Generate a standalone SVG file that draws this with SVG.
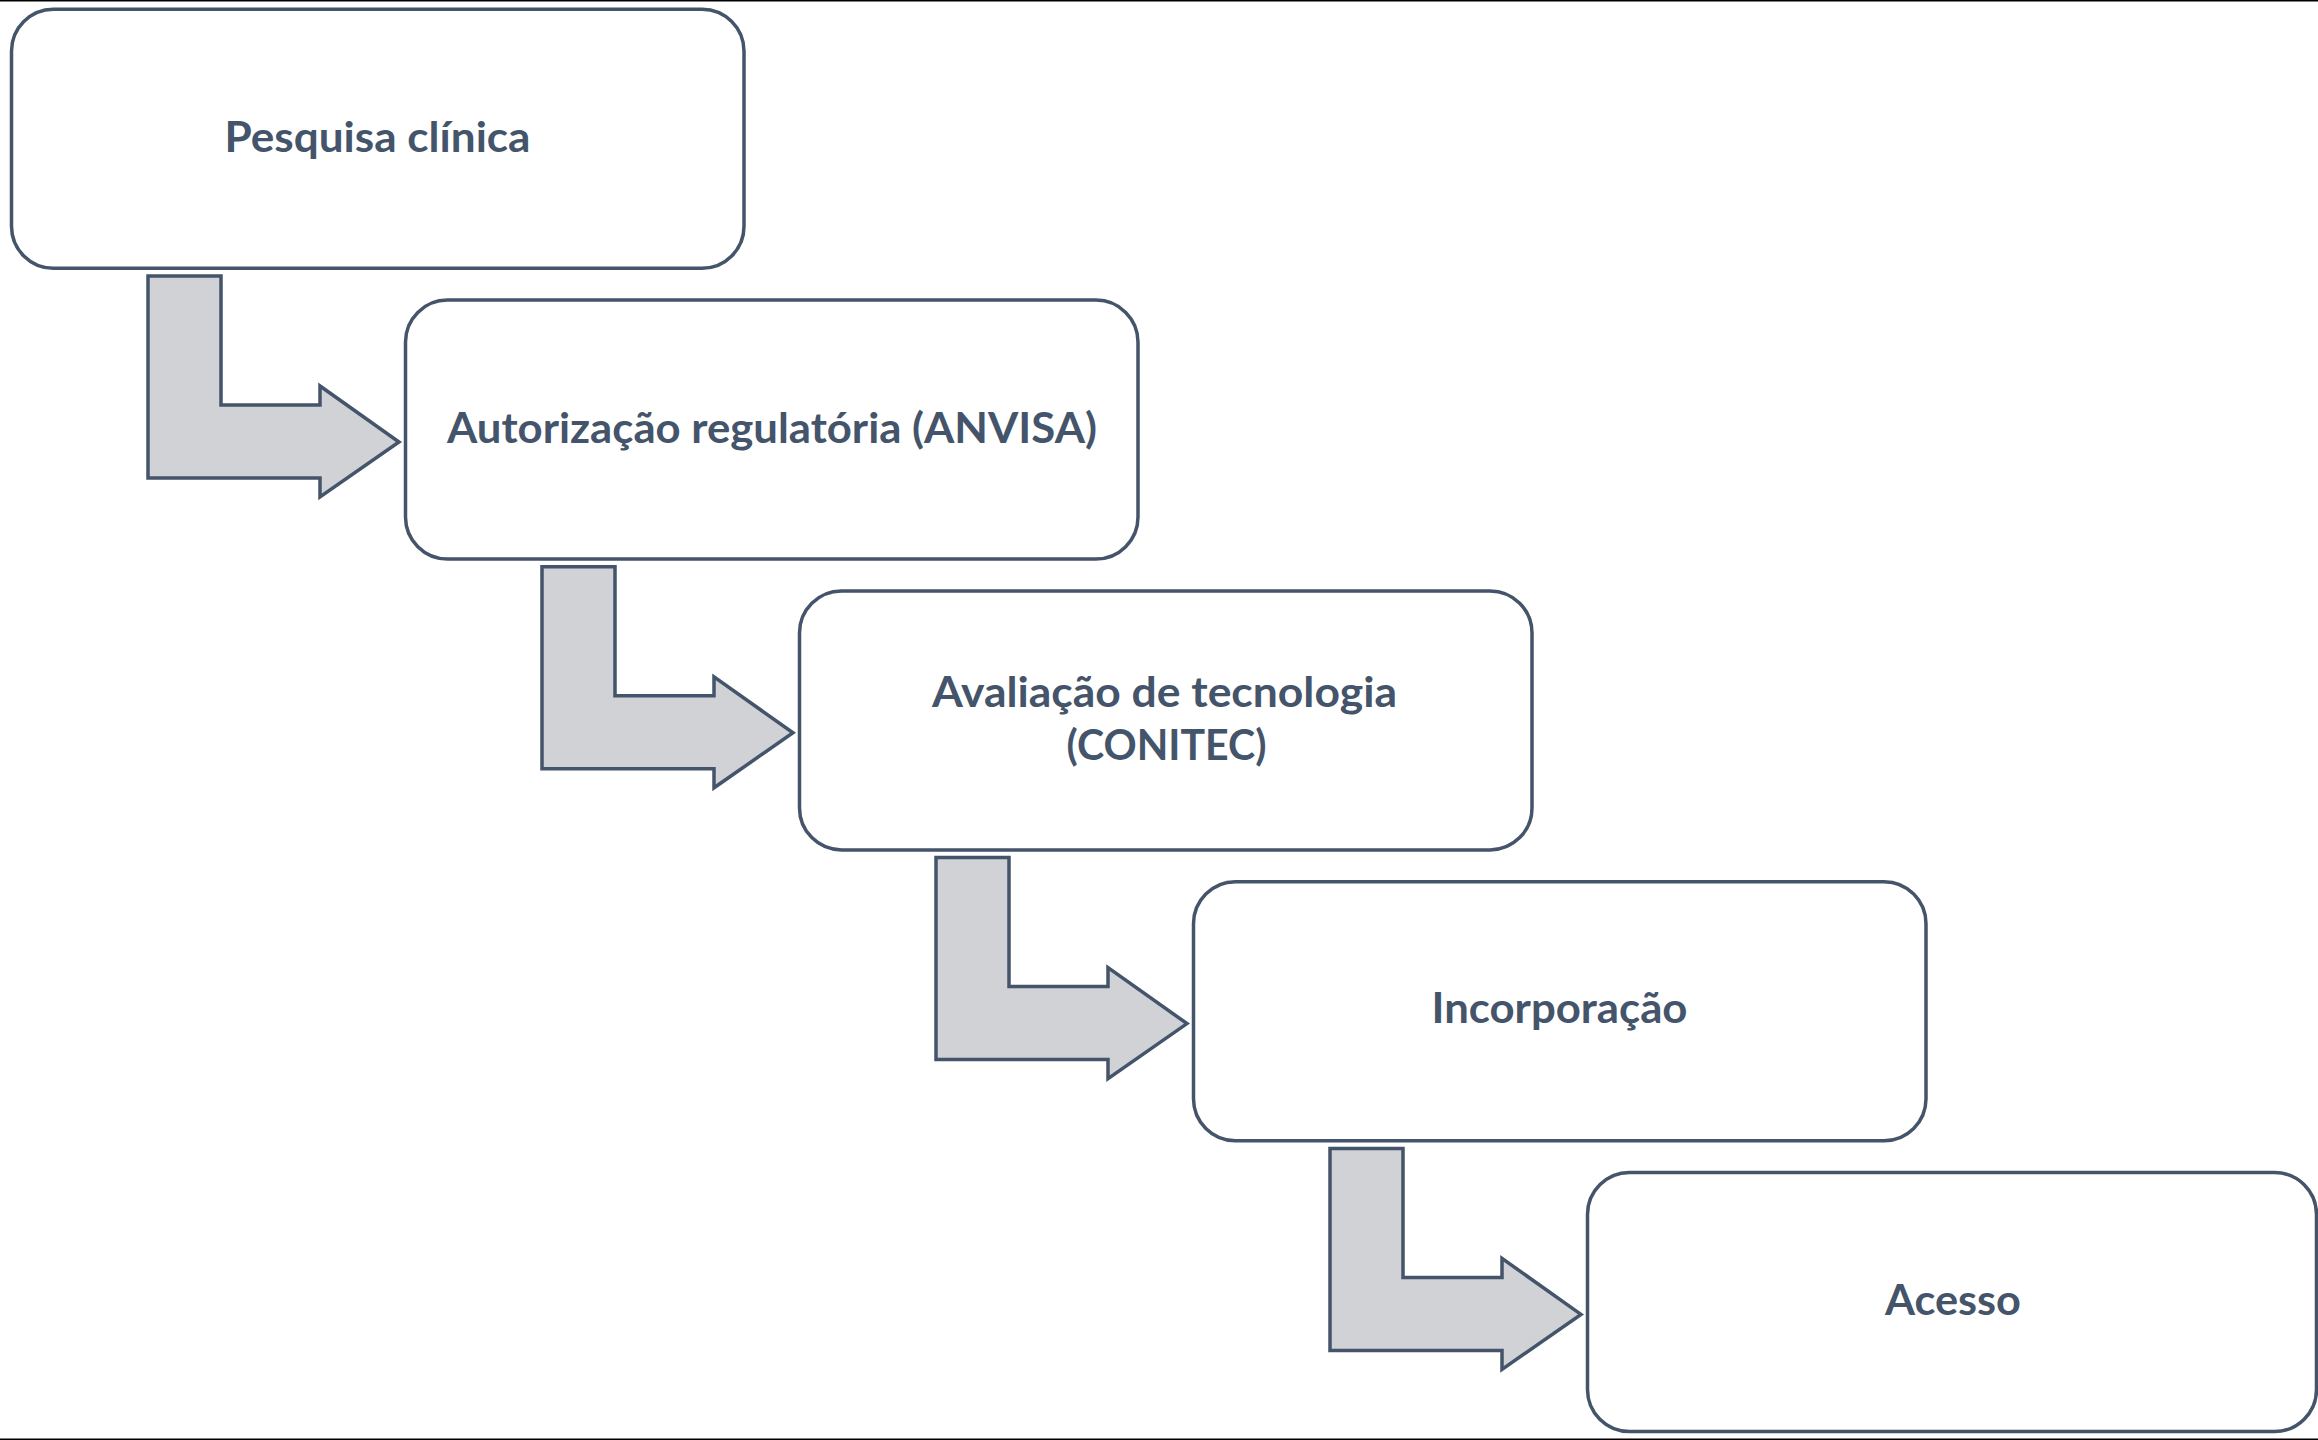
<svg xmlns="http://www.w3.org/2000/svg" xmlns:xlink="http://www.w3.org/1999/xlink" width="2318" height="1440" viewBox="0 0 2318 1440">
<style>
.box{fill:#ffffff;stroke:#44546A;stroke-width:3.5}
.arr{fill:#D0D2D6;stroke:#44546A;stroke-width:3.5;stroke-linejoin:miter}
.lbl{font-family:Lato,"Open Sans","Liberation Sans",sans-serif;font-weight:700;font-size:42px;fill:#44546A;text-anchor:middle}
.frame{stroke:#000000;stroke-width:1.5}
</style>
<defs>
<polygon id="bentArrow" points="148,276 221,276 221,405 320,405 320,386 399,442 320,497 320,478 148,478"/>
</defs>
<rect width="2318" height="1440" fill="#ffffff"/>
<line class="frame" x1="0" y1="0.75" x2="2318" y2="0.75"/>
<line class="frame" x1="0" y1="1439.25" x2="2318" y2="1439.25"/>
<g id="connectors">
<use xlink:href="#bentArrow" class="arr"/>
<use xlink:href="#bentArrow" class="arr" transform="translate(394,290.8)"/>
<use xlink:href="#bentArrow" class="arr" transform="translate(788,581.6)"/>
<use xlink:href="#bentArrow" class="arr" transform="translate(1182,872.4)"/>
</g>
<g id="node1">
<rect class="box" x="11.5" y="9.3" width="732.5" height="259" rx="42" ry="42"/>
<text class="lbl" x="377.5" y="152" textLength="306" lengthAdjust="spacingAndGlyphs">Pesquisa clínica</text>
</g>
<g id="node2">
<rect class="box" x="405.5" y="300.1" width="732.5" height="259" rx="42" ry="42"/>
<text class="lbl" x="772" y="443" textLength="650" lengthAdjust="spacingAndGlyphs">Autorização regulatória (ANVISA)</text>
</g>
<g id="node3">
<rect class="box" x="799.5" y="590.9" width="732.5" height="259" rx="42" ry="42"/>
<text class="lbl" x="1164.5" y="706.7" textLength="465" lengthAdjust="spacingAndGlyphs">Avaliação de tecnologia</text>
<text class="lbl" x="1166.5" y="760" textLength="200" lengthAdjust="spacingAndGlyphs">(CONITEC)</text>
</g>
<g id="node4">
<rect class="box" x="1193.5" y="881.7" width="732.5" height="259" rx="42" ry="42"/>
<text class="lbl" x="1559.5" y="1023.3" textLength="256" lengthAdjust="spacingAndGlyphs">Incorporação</text>
</g>
<g id="node5">
<rect class="box" x="1587.5" y="1172.5" width="729" height="259" rx="42" ry="42"/>
<text class="lbl" x="1953" y="1315" textLength="136" lengthAdjust="spacingAndGlyphs">Acesso</text>
</g>
</svg>
